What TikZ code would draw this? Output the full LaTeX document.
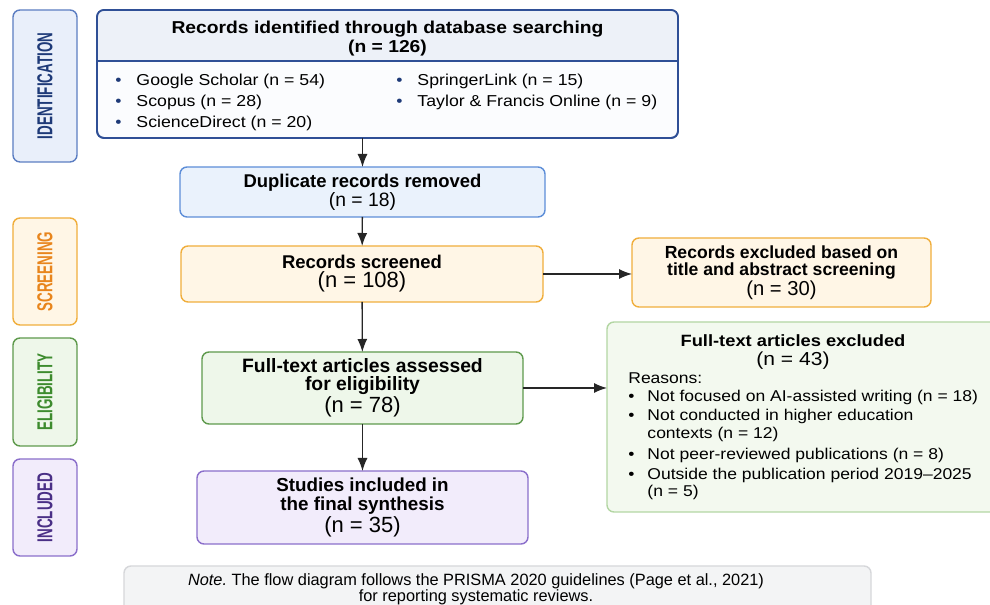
\documentclass[tikz,border=0pt]{standalone}
\usepackage{fontspec}
\setmainfont{Liberation Sans}
\newfontfamily\phasefont[FakeStretch=0.62]{Liberation Sans}
\newfontfamily\widefont[FakeStretch=1.12,Ligatures=TeX]{Liberation Sans}
\usepackage{graphicx}
\usetikzlibrary{arrows.meta,positioning,calc}
\usepackage{xcolor}
\definecolor{idText}{HTML}{1E3A78}
\definecolor{idLine}{HTML}{5C7EC2}
\definecolor{idFill}{HTML}{E9EFFA}
\definecolor{recLine}{HTML}{2F4F96}
\definecolor{recHead}{HTML}{EDF1F8}
\definecolor{recBody}{HTML}{FBFCFE}
\definecolor{dupLine}{HTML}{5D8ED8}
\definecolor{dupFill}{HTML}{EAF2FC}
\definecolor{scrText}{HTML}{E8851C}
\definecolor{scrLine}{HTML}{F0AE3C}
\definecolor{scrFill}{HTML}{FFF6E6}
\definecolor{eliText}{HTML}{3D8B2E}
\definecolor{eliLine}{HTML}{5F9A4D}
\definecolor{eliFill}{HTML}{EEF7EA}
\definecolor{excLine}{HTML}{B3D6A3}
\definecolor{excFill}{HTML}{F3F9EF}
\definecolor{incText}{HTML}{4A2F86}
\definecolor{incLine}{HTML}{8B6FCB}
\definecolor{incFill}{HTML}{F2ECFB}
\definecolor{noteLine}{HTML}{D6D7DA}
\definecolor{noteFill}{HTML}{F3F4F5}
\newcommand\itm{\textcolor{idText}{\textbullet}\hspace{8.5pt}}
\newcommand\rsn{\textbullet\hspace{7.4pt}}
\newcommand\rsncont{\phantom{\textbullet}\hspace{7.4pt}}
\newcommand\fs[2]{\fontsize{#1}{#2}\selectfont}
\newcommand\nline[2]{\mdseries\fontsize{#1}{#2}\selectfont}
\frenchspacing

\begin{document}
\begin{tikzpicture}[
  phase/.style={draw,rounded corners=4pt,line width=0.8pt,minimum width=1.28cm,inner sep=0pt,outer sep=0pt,
    font=\phasefont\fontsize{12.3}{14}\selectfont\bfseries},
  box/.style={draw,rounded corners=4pt,line width=0.8pt,align=center,inner sep=0pt,outer sep=0pt},
  idbox/.style={box,draw=dupLine,fill=dupFill},
  scrbox/.style={box,draw=scrLine,fill=scrFill},
  elibox/.style={box,draw=eliLine,fill=eliFill},
  incbox/.style={box,draw=incLine,fill=incFill},
  item/.style={anchor=west,inner sep=0pt,font=\widefont\fs{9}{12}},
  flow/.style={-{Latex[length=2.6mm,width=2mm]},line width=0.75pt,black!85}]

  \useasboundingbox (0,0) rectangle (19.8,12.1);
  \fill[white] (0,0) rectangle (19.8,12.1);
  \clip (0,0) rectangle (19.8,12.1);

  % phase labels
  \node[phase,draw=idLine,fill=idFill,minimum height=3.04cm] (ident) at (0.90,10.38)
    {\rotatebox{90}{\color{idText}IDENTIFICATION}};
  \node[phase,draw=scrLine,fill=scrFill,minimum height=2.14cm] (screen) at (0.90,6.67)
    {\rotatebox{90}{\color{scrText}SCREENING}};
  \node[phase,draw=eliLine,fill=eliFill,minimum height=2.16cm] (elig) at (0.90,4.26)
    {\rotatebox{90}{\color{eliText}ELIGIBILITY}};
  \node[phase,draw=incLine,fill=incFill,minimum height=1.94cm] (incl) at (0.90,1.95)
    {\rotatebox{90}{\color{incText}INCLUDED}};

  % identification
  \node[box,draw=recLine,fill=recBody,line width=1pt,minimum width=11.62cm,minimum height=2.56cm] (rec) at (7.75,10.62) {};
  \begin{scope}
    \clip[rounded corners=4pt] (rec.north west) rectangle (rec.south east);
    \fill[recHead] (rec.north west) rectangle ([yshift=-1.02cm]rec.north east);
  \end{scope}
  \draw[recLine,line width=0.8pt] ([yshift=-1.02cm]rec.north west) -- ([yshift=-1.02cm]rec.north east);
  \draw[recLine,line width=1pt,rounded corners=4pt] (rec.north west) rectangle (rec.south east);
  \node[align=center,inner sep=0pt,font=\widefont\fs{9.8}{10.4}\bfseries] (recT) at (7.75,11.33)
    {Records identified through database searching\\(n = 126)};
  \node[item] (gs) at (2.30,10.48) {\itm Google Scholar (n = 54)};
  \node[item] (sc) at (2.30,10.06) {\itm Scopus (n = 28)};
  \node[item] (sd) at (2.30,9.64) {\itm ScienceDirect (n = 20)};
  \node[item] (sl) at (7.92,10.48) {\itm SpringerLink (n = 15)};
  \node[item] (tf) at (7.92,10.06) {\itm Taylor \& Francis Online (n = 9)};

  \node[idbox,minimum width=7.30cm,minimum height=1.00cm,font=\fs{10.5}{10.8}\bfseries] (dup) at (7.25,8.26)
    {Duplicate records removed\\\nline{11}{10.8}(n = 18)};

  % screening
  \node[scrbox,minimum width=7.24cm,minimum height=1.12cm,font=\fs{10.5}{10.8}\bfseries] (scr) at (7.24,6.62)
    {Records screened\\\nline{12.5}{10.8}(n = 108)};
  \node[scrbox,minimum width=5.98cm,minimum height=1.38cm,font=\fs{10}{9.7}\bfseries] (exc1) at (15.63,6.65)
    {Records excluded based on\\title and abstract screening\\\nline{11.5}{9.7}(n = 30)};

  % eligibility
  \node[elibox,minimum width=6.42cm,minimum height=1.44cm,font=\fs{11}{10.3}\bfseries] (ft) at (7.25,4.34)
    {Full-text articles assessed\\for eligibility\\\nline{12.5}{10.3}(n = 78)};
  \node[box,draw=excLine,fill=excFill,minimum width=7.86cm,minimum height=3.80cm] (exc2) at (16.07,3.76) {};
  \node[align=center,inner sep=0pt,font=\widefont\fs{9.3}{10.8}\bfseries] (exc2T) at (15.86,5.05)
    {Full-text articles excluded\\\nline{10.7}{10.8}(n = 43)};
  \node[anchor=north west,align=left,inner sep=0pt,font=\widefont\fs{8.9}{10}] (rsn) at (12.56,4.66)
    {Reasons:\\[0.3pt]
     \rsn Not focused on AI-assisted writing (n = 18)\\[1pt]
     \rsn Not conducted in higher education\\
     \rsncont contexts (n = 12)\\[2pt]
     \rsn Not peer-reviewed publications (n = 8)\\[1.5pt]
     \rsn Outside the publication period 2019–2025\\
     \rsncont (n = 5)};

  % included
  \node[incbox,minimum width=6.62cm,minimum height=1.46cm,font=\fs{10.7}{10.6}\bfseries] (inc) at (7.25,1.95)
    {Studies included in\\the final synthesis\\\nline{12.5}{10.6}(n = 35)};

  % note
  \node[box,draw=noteLine,fill=noteFill,minimum width=14.94cm,minimum height=0.92cm] (note) at (9.95,0.32) {};
  \node[align=center,inner sep=0pt,font=\fs{9.3}{9.1}] (noteT) at (9.52,0.32)
    {\textit{Note.} The flow diagram follows the PRISMA 2020 guidelines (Page et al., 2021)\\for reporting systematic reviews.};

  \draw[flow] (rec.south -| dup.north) -- (dup.north);
  \draw[flow] (dup) -- (scr);
  \draw[flow] (scr.east) -- (scr.east -| exc1.west);
  \draw[flow] (scr) -- (ft);
  \draw[flow] (ft.east) -- (ft.east -| exc2.west);
  \draw[flow] (ft) -- (inc);
\end{tikzpicture}
\end{document}
